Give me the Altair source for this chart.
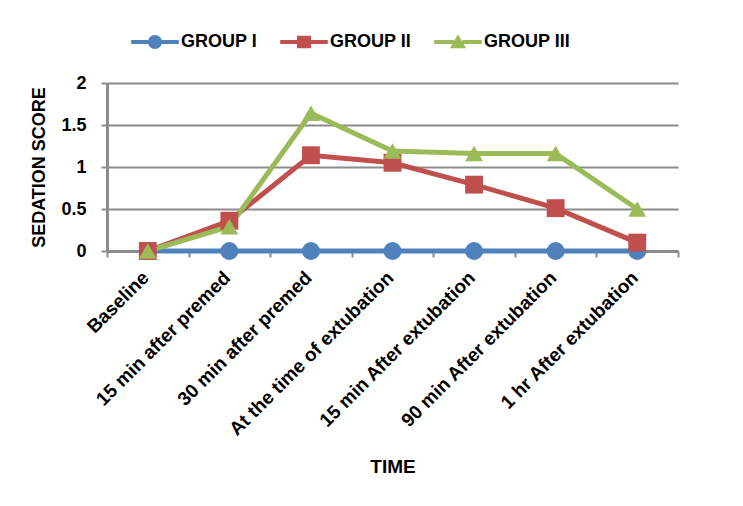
import altair as alt
import pandas as pd

times = [
    "Baseline",
    "15 min after premed",
    "30 min after premed",
    "At the time of extubation",
    "15 min After extubation",
    "90 min After extubation",
    "1 hr After extubation",
]
groups = ["GROUP I", "GROUP II", "GROUP III"]
group1 = [0, 0, 0, 0, 0, 0, 0]
group2 = [0, 0.36, 1.14, 1.05, 0.79, 0.51, 0.1]
group3 = [0, 0.29, 1.64, 1.19, 1.16, 1.16, 0.5]
colors = ["#4F81BD", "#C0504D", "#9BBB59"]
marker_shapes = ["circle", "square", "triangle-up"]

rows = []
for g, vals in zip(groups, [group1, group2, group3]):
    for t, v in zip(times, vals):
        rows.append({"time": t, "score": v, "group": g})
df = pd.DataFrame(rows)

FONT = "Liberation Sans"

# legend symbols: line segment + marker (custom paths in unit box)
p_circle = ("M-3.4,-0.3 H-0.9 V0.3 H-3.4 Z M0.9,-0.3 H3.4 V0.3 H0.9 Z "
            "M-1,0 A1,1 0 1,1 1,0 A1,1 0 1,1 -1,0 Z")
p_square = ("M-3.4,-0.3 H-0.9 V0.3 H-3.4 Z M0.9,-0.3 H3.4 V0.3 H0.9 Z "
            "M-1,-0.9 H1 V0.9 H-1 Z")
p_tri = ("M-3.4,-0.3 H-0.6 V0.3 H-3.4 Z M0.6,-0.3 H3.4 V0.3 H0.6 Z "
         "M0,-1.1 L1.15,0.9 L-1.15,0.9 Z")

legend = alt.Legend(
    title=None,
    orient="none",
    direction="horizontal",
    legendX=39,
    legendY=-50,
    padding=0,
    symbolSize=196,
    symbolOpacity=1,
    symbolStrokeWidth=0,
    labelOffset=17,
    columnPadding=22,
    labelFont=FONT,
    labelFontSize=18,
    labelFontWeight="bold",
    labelColor="#000000",
)

x = alt.X(
    "time:N",
    sort=times,
    scale=alt.Scale(type="band", paddingInner=0, paddingOuter=0),
    axis=alt.Axis(
        title="TIME",
        labelAngle=-45,
        labelLimit=400,
        labelOffset=-9,
        tickBand="extent",
        tickSize=6,
        tickColor="#8C8C8C",
        tickWidth=2,
        domainColor="#8C8C8C",
        domainWidth=3,
        labelFont=FONT,
        labelFontSize=19,
        labelFontWeight="bold",
        labelColor="#000000",
        labelPadding=11,
        titleFont=FONT,
        titleFontSize=19,
        titleFontWeight="bold",
        titleColor="#000000",
        titlePadding=19,
        grid=False,
    ),
)
y = alt.Y(
    "score:Q",
    scale=alt.Scale(domain=[0, 2]),
    axis=alt.Axis(
        title="SEDATION SCORE",
        values=[0, 0.5, 1, 1.5, 2],
        format="~g",
        tickSize=6,
        tickColor="#8C8C8C",
        tickWidth=2,
        domainColor="#8C8C8C",
        domainWidth=3,
        gridColor="#8C8C8C",
        gridWidth=2,
        labelFont=FONT,
        labelFontSize=18,
        labelFontWeight="bold",
        labelColor="#000000",
        labelPadding=15,
        titleFont=FONT,
        titleFontSize=18,
        titleFontWeight="bold",
        titleColor="#000000",
        titlePadding=12,
    ),
)
cscale = alt.Scale(domain=groups, range=colors)

legend_layer = (
    alt.Chart(df)
    .transform_filter("false")
    .mark_point(filled=True, opacity=1)
    .encode(
        x=x,
        y=y,
        color=alt.Color("group:N", scale=cscale, legend=legend),
        shape=alt.Shape(
            "group:N",
            scale=alt.Scale(domain=groups, range=[p_circle, p_square, p_tri]),
            legend=legend,
        ),
    )
)

lines = alt.Chart(df).mark_line(strokeWidth=5).encode(
    x=x, y=y, color=alt.Color("group:N", scale=cscale)
)

point_layers = []
for g, shp in zip(groups, marker_shapes):
    point_layers.append(
        alt.Chart(df)
        .transform_filter(alt.datum.group == g)
        .mark_point(filled=True, opacity=1, size=320, shape=shp)
        .encode(x=x, y=y, color=alt.Color("group:N", scale=cscale))
    )

chart = (
    alt.layer(legend_layer, lines, *point_layers)
    .properties(
        width=571,
        height=168,
        autosize=alt.AutoSizeParams(type="none"),
        padding={"left": 99, "top": 75, "right": 50, "bottom": 240},
        background="#FFFFFF",
    )
    .configure_view(stroke=None)
)

chart.save("out.html", embed_options={"renderer": "svg", "actions": False})
